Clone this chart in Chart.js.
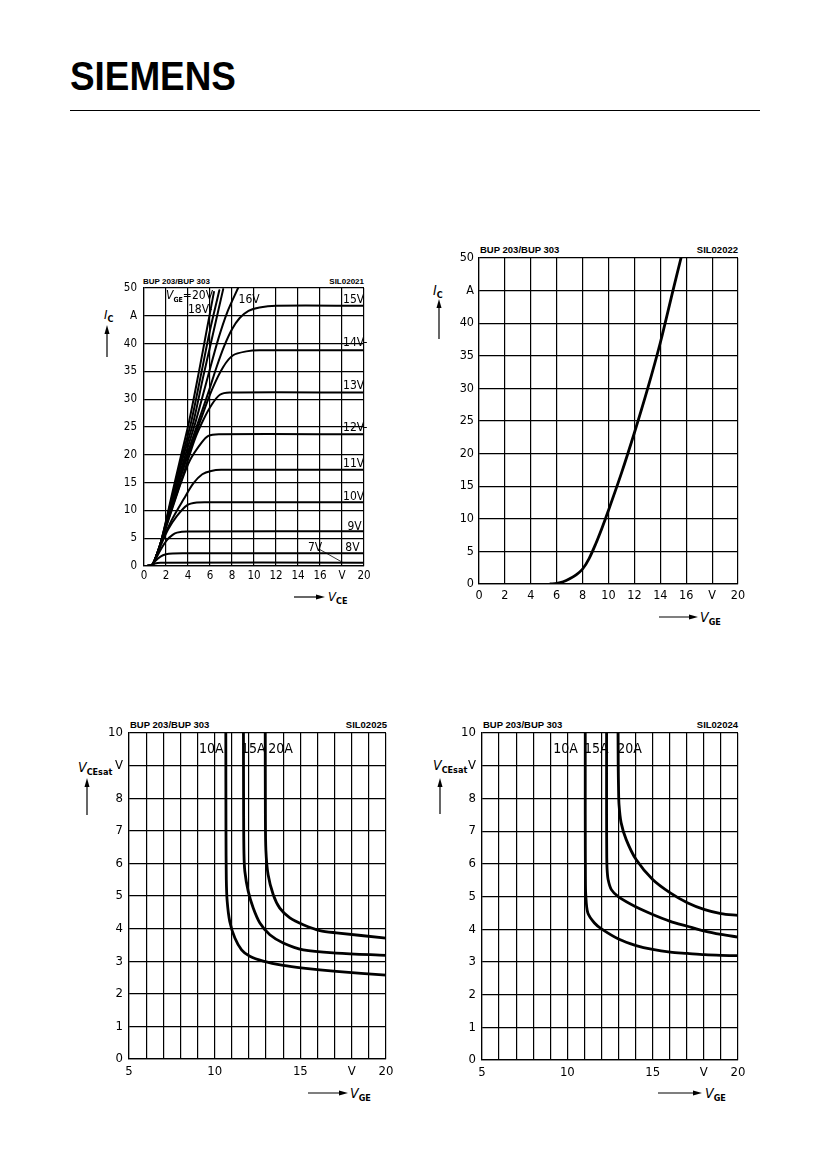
<!DOCTYPE html>
<html>
<head>
<meta charset="utf-8">
<script src="https://cdn.jsdelivr.net/npm/chart.js@4.4.1/dist/chart.umd.min.js"></script>
<style>
html,body{margin:0;padding:0;background:#fff;}
body{width:826px;height:1169px;position:relative;overflow:hidden;font-family:"Liberation Sans Narrow","DejaVu Sans Condensed","Liberation Sans",sans-serif;color:#000;}
.t{position:absolute;white-space:nowrap;line-height:1;}
canvas{position:absolute;}
#logo{left:70px;top:56px;font-family:"Liberation Sans",Arial,sans-serif;font-weight:bold;font-size:40.5px;transform:scaleX(0.91);transform-origin:0 0;}
.hdr{font-family:"Liberation Sans",sans-serif;font-weight:bold;}
.ax{font-size:14px;}
.ax i{font-style:italic;}
.ax b{font-size:9px;position:relative;top:3px;font-style:normal;}
svg{position:absolute;left:0;top:0;}
</style>
</head>
<body>
<div class="t" id="logo">SIEMENS</div>

<div class="t hdr" style="left:143px;top:278px;font-size:8px;">BUP 203/BUP 303</div>
<div class="t hdr" style="right:462px;top:278px;font-size:8px;">SIL02021</div>
<div class="t hdr" style="left:480px;top:245px;font-size:9.5px;">BUP 203/BUP 303</div>
<div class="t hdr" style="right:88px;top:245px;font-size:9.5px;">SIL02022</div>
<div class="t hdr" style="left:130px;top:720px;font-size:9.5px;">BUP 203/BUP 303</div>
<div class="t hdr" style="right:439px;top:720px;font-size:9.5px;">SIL02025</div>
<div class="t hdr" style="left:483px;top:720px;font-size:9.5px;">BUP 203/BUP 303</div>
<div class="t hdr" style="right:88px;top:720px;font-size:9.5px;">SIL02024</div>

<div class="t ax" style="left:104px;top:308px;font-size:13px;"><i>I</i><b>C</b></div>
<div class="t ax" style="left:328px;top:590px;font-size:13px;"><i>V</i><b>CE</b></div>
<div class="t ax" style="left:433px;top:283px;"><i>I</i><b>C</b></div>
<div class="t ax" style="left:700px;top:610px;"><i>V</i><b>GE</b></div>
<div class="t ax" style="left:78px;top:760px;"><i>V</i><b>CEsat</b></div>
<div class="t ax" style="left:350px;top:1086px;"><i>V</i><b>GE</b></div>
<div class="t ax" style="left:433px;top:758px;"><i>V</i><b>CEsat</b></div>
<div class="t ax" style="left:705px;top:1086px;"><i>V</i><b>GE</b></div>

<script>
const FONT = '"Liberation Sans Narrow","DejaVu Sans Condensed","Liberation Sans",sans-serif';

/* ---------- Output characteristics I_C = f(V_CE), parameter V_GE ---------- */
const out20V = [[0,0],[0.7,0.1],[1.0,1.2],[1.5,4.0],[2.5,12.5],[3.3,19.3],[4.1,26],[5.0,35.0],[5.7,42.4],[6.36,49.3]];
const out18V = [[0,0],[0.7,0.1],[1.0,1.2],[1.5,4.0],[2.5,12.0],[3.4,19.2],[4.3,26],[5.2,34.6],[6.0,42.4],[6.85,49.6]];
const out17V = [[0,0],[0.7,0.1],[1.0,1.2],[1.5,4.0],[2.5,11.6],[3.5,19.2],[4.5,26],[5.4,34.2],[6.3,42.0],[7.2,49.8]];
const out16V = [[0,0],[0.7,0.1],[1.0,1.2],[1.5,4.0],[2.5,11.2],[3.6,18.9],[4.7,26],[5.8,34],[6.75,40.8],[7.6,45.8],[8.55,50]];
const out15V = [[0,0],[0.7,0.1],[1.0,1.2],[1.5,4.0],[2.5,10.9],[3.7,18.8],[4.95,26],[5.9,31.5],[6.6,35.8],[7.3,39.6],[8.0,42.6],[8.7,44.6],[9.5,45.9],[10.5,46.5],[12,46.8],[20,46.8]];
const out14V = [[0,0],[0.7,0.1],[1.0,1.2],[1.5,4.0],[2.5,10.6],[3.8,18.8],[5.1,26],[6.2,31.8],[7.2,35.8],[8.1,37.9],[9.3,38.6],[10.5,38.8],[20,38.8]];
const out13V = [[0,0],[0.7,0.1],[1.0,1.2],[1.5,4.0],[2.5,10.2],[3.5,16.0],[4.6,22.7],[5.4,26.3],[6.15,29.0],[6.9,30.8],[7.8,31.2],[20,31.2]];
const out12V = [[0,0],[0.7,0.1],[1.0,1.2],[1.5,4.0],[2.5,9.9],[3.4,15.2],[4.2,19.1],[5.2,22.1],[5.85,23.4],[6.8,23.7],[20,23.7]];
const out11V = [[0,0],[0.7,0.1],[1.0,1.1],[1.5,3.9],[2.5,8.2],[3.6,12.0],[4.5,14.9],[5.3,16.5],[6.1,17.1],[7.0,17.3],[20,17.3]];
const out10V = [[0,0],[0.7,0.1],[1.0,1.1],[1.5,3.6],[2.2,6.6],[3.0,9.0],[3.9,10.9],[4.8,11.4],[6,11.45],[20,11.45]];
const out9V  = [[0,0],[0.7,0.1],[1.0,1.0],[1.5,2.9],[2.1,4.7],[2.6,5.6],[3.0,6.0],[3.9,6.2],[20,6.25]];
const out8V  = [[0,0],[0.7,0.1],[1.0,0.85],[1.5,1.7],[2.0,2.1],[2.6,2.25],[3.5,2.3],[20,2.3]];
const out7V  = [[0,0],[0.7,0.1],[1.0,0.45],[1.5,0.6],[20,0.6]];

/* ---------- Transfer characteristic I_C = f(V_GE) ---------- */
const transVge = [5.5,6,6.5,7,7.5,8,8.5,9,9.5,10,11,12,13,14,15,15.6];
const transIc  = [0,0.1,0.35,0.8,1.4,2.3,3.9,6.1,8.6,11.3,17.0,23.2,29.8,37.0,45.2,50];

/* ---------- Saturation voltage V_CEsat = f(V_GE), SIL02025 ---------- */
const satA10 = [[10.65,10],[10.66,7],[10.68,5.5],[10.73,4.84],[10.88,4.22],[11.18,3.71],[11.57,3.35],[12.05,3.15],[12.83,3.0],[14,2.87],[15.17,2.79],[17.1,2.69],[20,2.57]];
const satA15 = [[11.68,10],[11.69,7.5],[11.71,6.3],[11.76,5.76],[11.96,5.14],[12.25,4.63],[12.64,4.17],[13.22,3.81],[14,3.56],[15.17,3.35],[17.1,3.25],[20,3.18]];
const satA20 = [[12.95,10],[12.96,7.5],[12.99,6.4],[13.12,5.65],[13.42,5.04],[13.8,4.63],[14.39,4.33],[15.17,4.12],[16.14,3.94],[17.1,3.87],[20,3.71]];

/* ---------- Saturation voltage V_CEsat = f(V_GE), SIL02024 ---------- */
const satB10 = [[11.05,10],[11.05,7.5],[11.06,5.6],[11.08,5.05],[11.2,4.5],[11.59,4.19],[12,4.01],[13,3.7],[14.03,3.5],[15,3.38],[16.03,3.3],[17.03,3.26],[18.05,3.22],[19,3.2],[20,3.19]];
const satB15 = [[12.3,10],[12.3,7.5],[12.31,6.2],[12.33,5.83],[12.39,5.52],[12.58,5.21],[13,4.99],[14.03,4.68],[15,4.45],[16.03,4.24],[17.03,4.09],[18.05,3.94],[19,3.84],[20,3.76]];
const satB20 = [[12.97,10],[12.98,9],[13.0,8.3],[13.03,7.8],[13.15,7.26],[13.45,6.74],[14.03,6.13],[15,5.52],[16.03,5.11],[17.03,4.81],[18.05,4.6],[19,4.48],[20,4.42]];

/* ---------- tick labels ---------- */
const icTicks   = ['0','5','10','15','20','25','30','35','40','A','50'];
const vTicks20  = ['0','2','4','6','8','10','12','14','16','V','20'];
const vgeTicks  = ['5','','','','','10','','','','','15','','','V','','20'];
const vsatTicks = ['0','1','2','3','4','5','6','7','8','V','10'];

const labelPlugin = {
  id:'curveLabels',
  afterDatasetsDraw(chart, args, o) {
    const ctx = chart.ctx, xs = chart.scales.x, ys = chart.scales.y;
    ctx.save();
    ctx.fillStyle = '#000'; ctx.strokeStyle = '#000'; ctx.lineWidth = 0.8;
    (o.leaders || []).forEach(l => {
      ctx.beginPath();
      ctx.moveTo(xs.getPixelForValue(l[0]), ys.getPixelForValue(l[1]));
      ctx.lineTo(xs.getPixelForValue(l[2]), ys.getPixelForValue(l[3]));
      ctx.stroke();
    });
    const size = o.font;
    const fontOf = p => (p.italic ? 'italic ' : '') + (p.sub ? 'bold ' : '') + (p.sub ? Math.round(size * 0.62) : size) + 'px ' + FONT;
    (o.items || []).forEach(it => {
      const parts = it.parts || [{t: it.text}];
      let total = 0;
      parts.forEach(p => { ctx.font = fontOf(p); total += ctx.measureText(p.t).width; });
      let px = xs.getPixelForValue(it.x);
      const py = ys.getPixelForValue(it.y) + size * 0.36;
      if (it.align === 'center') px -= total / 2;
      parts.forEach(p => {
        ctx.font = fontOf(p);
        ctx.fillText(p.t, px, py + (p.sub ? size * 0.25 : 0));
        px += ctx.measureText(p.t).width;
      });
    });
    ctx.restore();
  }
};

function makeChart(box, spec) {
  const PL = 46, PT = 14, PR = 16, PB = 28;
  const W = box.w + PL + PR, H = box.h + PT + PB;
  const cv = document.createElement('canvas');
  cv.width = W; cv.height = H;
  cv.style.left = (box.l - PL) + 'px'; cv.style.top = (box.t - PT) + 'px';
  cv.style.width = W + 'px'; cv.style.height = H + 'px';
  document.body.appendChild(cv);
  const gridOpt = {color:'#000', lineWidth:1.2, drawTicks:false};
  const borderOpt = {color:'#000', width:1.2};
  new Chart(cv, {
    type:'line',
    data:{datasets: spec.series.map(s => ({
      data: s.pts.map(p => ({x:p[0], y:p[1]})),
      borderColor:'#000', borderWidth:s.w, pointRadius:0,
      tension:0.3, fill:false, borderCapStyle:'round', borderJoinStyle:'round'
    }))},
    options:{
      responsive:false, animation:false, events:[],
      layout:{padding:{left:0, top:PT, right:PR, bottom:0}},
      plugins:{legend:{display:false}, tooltip:{enabled:false},
        curveLabels:{items:spec.labels, leaders:spec.leaders || [], font:spec.labelFont}},
      scales:{
        x:{type:'linear', min:spec.xMin, max:spec.xMax,
          afterFit:s => { s.height = PB; },
          ticks:{stepSize:spec.xStep, autoSkip:false, maxRotation:0, minRotation:0, padding:spec.xPad,
            color:'#000', font:{family:FONT, size:spec.tickSize}, callback:(v, i) => spec.xLabels[i]},
          grid:gridOpt, border:borderOpt},
        y:{type:'linear', min:spec.yMin, max:spec.yMax,
          afterFit:s => { s.width = PL; },
          ticks:{stepSize:spec.yStep, autoSkip:false, padding:spec.yPad,
            color:'#000', font:{family:FONT, size:spec.tickSize}, callback:(v, i) => spec.yLabels[i]},
          grid:gridOpt, border:borderOpt}
      }
    },
    plugins:[labelPlugin]
  });
}

/* Chart 1: output characteristics */
makeChart({l:144, t:288, w:220, h:278}, {
  xMin:0, xMax:20, xStep:2, yMin:0, yMax:50, yStep:5,
  xLabels:vTicks20, yLabels:icTicks, tickSize:11.5, xPad:3, yPad:7, labelFont:12,
  series:[out20V,out18V,out17V,out16V,out15V,out14V,out13V,out12V,out11V,out10V,out9V,out8V,out7V].map(p => ({pts:p, w:2})),
  labels:[
    {parts:[{t:'V',italic:true},{t:'GE',sub:true},{t:'=20V'}], x:2.0, y:48.8},
    {text:'18V-', x:4.0, y:46.3},
    {text:'16V', x:8.6, y:48.0},
    {text:'15V', x:18.1, y:48.0},
    {text:'14V-', x:18.1, y:40.3},
    {text:'13V', x:18.1, y:32.7},
    {text:'12V-', x:18.1, y:25.1},
    {text:'11V', x:18.1, y:18.6},
    {text:'10V', x:18.1, y:12.6},
    {text:'9V', x:18.5, y:7.3},
    {text:'8V', x:18.3, y:3.5},
    {text:'7V', x:14.9, y:3.5}
  ],
  leaders:[[15.95,3.0,18.1,0.6]]
});

/* Chart 2: transfer characteristic */
makeChart({l:479, t:258, w:259, h:326}, {
  xMin:0, xMax:20, xStep:2, yMin:0, yMax:50, yStep:5,
  xLabels:vTicks20, yLabels:icTicks, tickSize:12.5, xPad:4, yPad:5, labelFont:12,
  series:[{pts:transVge.map((v, i) => [v, transIc[i]]), w:2.8}],
  labels:[]
});

/* Chart 3: V_CEsat SIL02025 */
makeChart({l:129, t:733, w:257, h:326}, {
  xMin:5, xMax:20, xStep:1, yMin:0, yMax:10, yStep:1,
  xLabels:vgeTicks, yLabels:vsatTicks, tickSize:13, xPad:5, yPad:6, labelFont:14,
  series:[{pts:satA10, w:2.8},{pts:satA15, w:2.8},{pts:satA20, w:2.8}],
  labels:[
    {text:'10A', x:9.8, y:9.55, align:'center'},
    {text:'15A', x:12.25, y:9.55, align:'center'},
    {text:'20A', x:13.85, y:9.55, align:'center'}
  ]
});

/* Chart 4: V_CEsat SIL02024 */
makeChart({l:482, t:733, w:256, h:327}, {
  xMin:5, xMax:20, xStep:1, yMin:0, yMax:10, yStep:1,
  xLabels:vgeTicks, yLabels:vsatTicks, tickSize:13, xPad:5, yPad:6, labelFont:14,
  series:[{pts:satB10, w:2.8},{pts:satB15, w:2.8},{pts:satB20, w:2.8}],
  labels:[
    {text:'10A', x:9.9, y:9.55, align:'center'},
    {text:'15A', x:11.7, y:9.55, align:'center'},
    {text:'20A', x:13.65, y:9.55, align:'center'}
  ]
});

/* rule and axis arrows */
const arrowsUp = [[107,357,325],[439,339,299],[87,815,778],[440,814,778]];
const arrowsRight = [[294,325,597],[659,698,617],[308,348,1093],[658,702,1093]];
let svg = '<svg width="826" height="1169" xmlns="http://www.w3.org/2000/svg">';
svg += '<line x1="70" y1="110.5" x2="760" y2="110.5" stroke="#000" stroke-width="1.2"/>';
arrowsUp.forEach(a => {
  const [x, yb, yt] = a;
  svg += `<line x1="${x}" y1="${yb}" x2="${x}" y2="${yt + 6}" stroke="#000" stroke-width="1.2"/>`;
  svg += `<polygon points="${x - 2.5},${yt + 9} ${x + 2.5},${yt + 9} ${x},${yt}" fill="#000"/>`;
});
arrowsRight.forEach(a => {
  const [xs, xt, y] = a;
  svg += `<line x1="${xs}" y1="${y}" x2="${xt - 6}" y2="${y}" stroke="#000" stroke-width="1.2"/>`;
  svg += `<polygon points="${xt - 9},${y - 2.5} ${xt - 9},${y + 2.5} ${xt},${y}" fill="#000"/>`;
});
svg += '</svg>';
document.body.insertAdjacentHTML('beforeend', svg);
</script>
</body>
</html>
